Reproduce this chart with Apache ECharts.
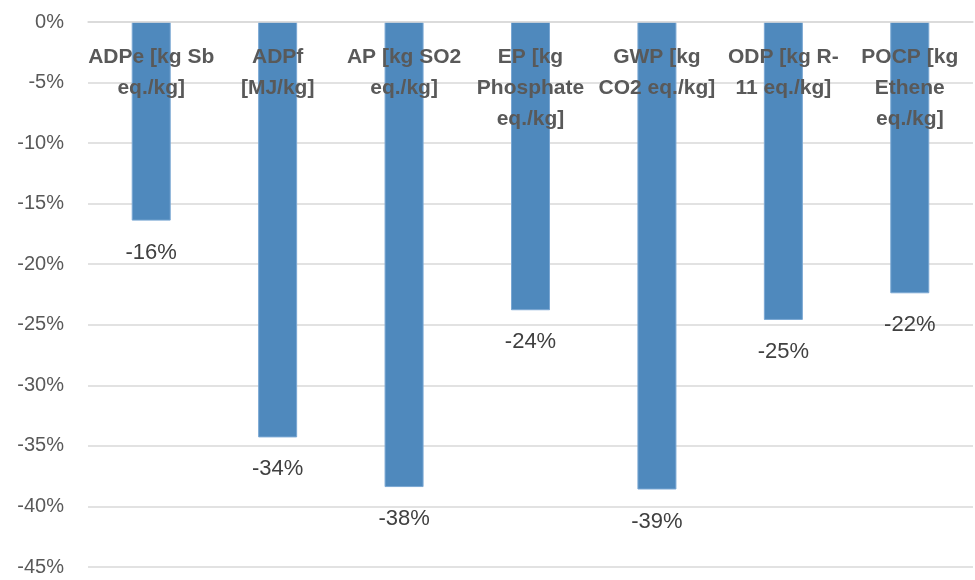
<!DOCTYPE html>
<html>
<head>
<meta charset="utf-8">
<script src="https://cdn.jsdelivr.net/npm/echarts@6/dist/echarts.min.js"></script>
<style>html,body{margin:0;padding:0;background:#fff;}#c{width:975px;height:580px;}</style>
</head>
<body>
<div id="c"></div>
<script>
var categories = [
  'ADPe [kg Sb\neq./kg]',
  'ADPf\n[MJ/kg]',
  'AP [kg SO2\neq./kg]',
  'EP [kg\nPhosphate\neq./kg]',
  'GWP [kg\nCO2 eq./kg]',
  'ODP [kg R-\n11 eq./kg]',
  'POCP [kg\nEthene\neq./kg]'
];
var values = [-16.4, -34.3, -38.4, -23.8, -38.6, -24.6, -22.4];
var yTicks = { min: -45, max: 0, interval: 5 };

var chart = echarts.init(document.getElementById('c'), null, { renderer: 'canvas' });
chart.setOption({
  animation: false,
  backgroundColor: '#ffffff',
  grid: { left: 88, right: 2, top: 22, bottom: 13, containLabel: false },
  xAxis: {
    type: 'category',
    data: categories,
    position: 'top',
    axisLine: { show: true, lineStyle: { color: '#d9d9d9', width: 1.5 } },
    axisTick: { show: false },
    splitLine: { show: false },
    axisLabel: {
      inside: true,
      margin: 20,
      interval: 0,
      color: '#595959',
      fontFamily: 'Liberation Sans, Arial, sans-serif',
      fontWeight: 'bold',
      fontSize: 21,
      lineHeight: 31,
      align: 'center',
      verticalAlign: 'top'
    },
    z: 10
  },
  yAxis: {
    type: 'value',
    min: yTicks.min,
    max: yTicks.max,
    interval: yTicks.interval,
    axisLine: { show: false },
    axisTick: { show: false },
    splitLine: { show: true, lineStyle: { color: '#d9d9d9', width: 1.5 } },
    axisLabel: {
      margin: 24,
      color: '#595959',
      fontFamily: 'Liberation Sans, Arial, sans-serif',
      fontSize: 20,
      formatter: function (v) { return v + '%'; }
    }
  },
  series: [{
    type: 'bar',
    data: values,
    barWidth: 39,
    itemStyle: { color: '#4f89bd', borderColor: '#7aa7d3', borderWidth: 1 },
    label: {
      show: true,
      position: 'bottom',
      distance: 21,
      color: '#404040',
      fontFamily: 'Liberation Sans, Arial, sans-serif',
      fontSize: 22,
      formatter: function (p) { return (-Math.round(-p.value)) + '%'; }
    },
    z: 2
  }]
});
</script>
</body>
</html>
